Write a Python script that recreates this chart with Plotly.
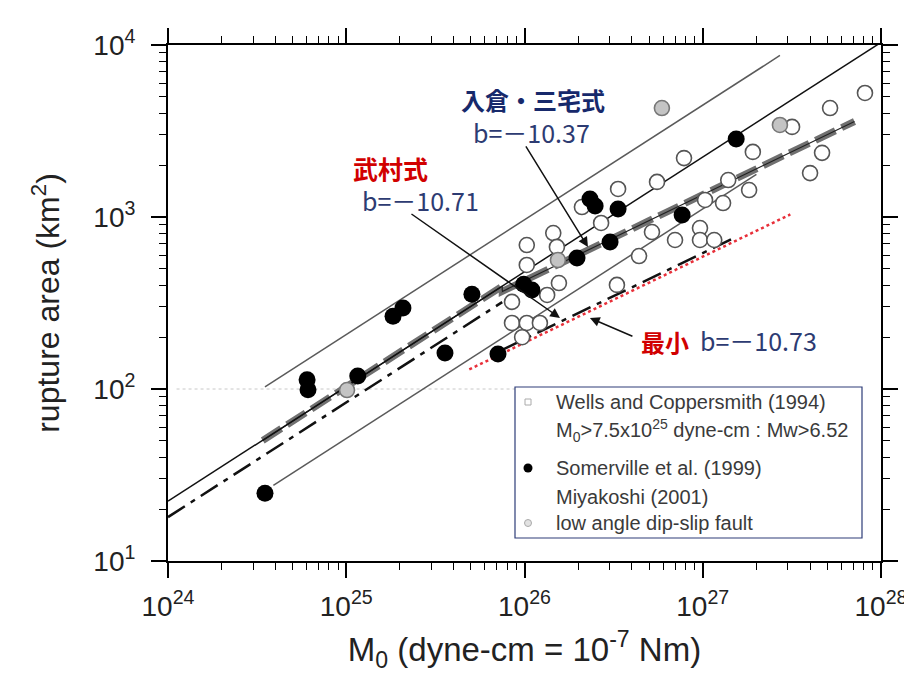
import plotly.graph_objects as go

# ---------------- data ----------------
# Somerville et al. (1999) events (filled black circles)
som_m0 = [3.50e24, 6.03e24, 6.1e24, 1.16e25, 1.83e25, 2.08e25, 3.58e25, 5.07e25,
          7.1e25, 9.9e25, 1.10e26, 1.97e26, 2.33e26, 2.49e26, 3.02e26, 3.35e26,
          7.66e26, 1.54e27]
som_area = [24.8, 113, 99, 119, 265, 296, 162, 356,
            160, 407, 376, 578, 1273, 1158, 716, 1114,
            1028, 2840]

# Wells & Coppersmith / Miyakoshi events (open circles)
wc_m0 = [8.13e27, 5.18e27, 3.17e27, 1.91e27, 4.67e27, 4.00e27, 7.85e26, 5.54e26,
         3.35e26, 1.39e27, 1.82e27, 1.03e27, 1.30e27, 2.10e26, 2.69e26, 1.45e26,
         1.03e26, 5.19e26, 6.99e26, 9.65e26, 9.65e26, 1.16e27, 4.39e26, 3.30e26,
         1.56e26, 1.03e26, 1.34e26, 8.51e25, 8.51e25, 1.03e26, 1.22e26, 9.7e25,
         1.52e26]
wc_area = [5260, 4300, 3340, 2390, 2360, 1800, 2200, 1600,
           1455, 1640, 1435, 1256, 1206, 1143, 923, 807,
           687, 818, 735, 863, 735, 735, 593, 403,
           413, 526, 352, 321, 242, 242, 242, 200,
           670]

# low angle dip-slip fault (grey circles)
lad_m0 = [5.9e26, 2.71e27, 1.54e26, 1.01e25]
lad_area = [4300, 3430, 562, 98.6]

# scaling-relation lines (end points)
som_line_m0 = [1e24, 1e28]
som_line_area = [22.3, 10350]
upper_m0 = [3.5e24, 2.71e27]
upper_area = [103, 8690]
lower_m0 = [3.9e24, 2.0e27]
lower_area = [27.5, 1770]
iri_m0 = [3.4e24, 7.5e25, 7.5e25, 7.1e27]          # 入倉・三宅式
iri_area = [50.2, 396, 369, 3590]
tak_m0 = [1e24, 7.5e25, None, 7.5e25, 1.5e27]       # 武村式
tak_area = [18.0, 320, None, 169, 755]
min_m0 = [4.9e25, 3.1e27]                          # 最小
min_area = [130, 1035]

x_ticks = [1e24, 1e25, 1e26, 1e27, 1e28]
x_ticktext = ["10<sup>24</sup>", "10<sup>25</sup>", "10<sup>26</sup>", "10<sup>27</sup>", "10<sup>28</sup>"]
y_ticks = [10.0, 100.0, 1000.0, 10000.0]
y_ticktext = ["10<sup>1</sup>", "10<sup>2</sup>", "10<sup>3</sup>", "10<sup>4</sup>"]

# ---------------- figure ----------------
fig = go.Figure()

def line(x, y, color, width, dash="solid"):
    fig.add_trace(go.Scatter(x=x, y=y, mode="lines", showlegend=False, hoverinfo="skip",
                             line=dict(color=color, width=width, dash=dash),
                             connectgaps=False))

line(upper_m0, upper_area, "#5a5a5a", 1.5)
line(lower_m0, lower_area, "#5a5a5a", 1.5)
line(iri_m0, iri_area, "#707070", 7, "22px,7px")
line(iri_m0, iri_area, "#222222", 1.2)
line(som_line_m0, som_line_area, "#111111", 1.5)
line(tak_m0, tak_area, "#111111", 2.5, "20px,7px,5px,7px")
line(min_m0, min_area, "#e8303a", 2.5, "dot")

fig.add_trace(go.Scatter(x=wc_m0, y=wc_area, mode="markers", showlegend=False,
                         marker=dict(symbol="circle", size=15, color="white",
                                     line=dict(color="#555555", width=1.6))))
fig.add_trace(go.Scatter(x=lad_m0, y=lad_area, mode="markers", showlegend=False,
                         marker=dict(symbol="circle", size=15, color="#c4c4c4",
                                     line=dict(color="#777777", width=1.6))))
fig.add_trace(go.Scatter(x=som_m0, y=som_area, mode="markers", showlegend=False,
                         marker=dict(symbol="circle", size=17, color="black",
                                     line=dict(color="black", width=0))))

# minor tick positions
x_minor = [float(m) * 10.0 ** e for e in range(24, 28) for m in range(2, 10)]
y_minor = [float(m) * 10.0 ** e for e in range(1, 4) for m in range(2, 10)]

axis_common = dict(type="log", showline=True, linecolor="black", linewidth=2,
                   mirror="ticks", ticks="outside", ticklen=15, tickwidth=1.5,
                   tickcolor="black", showgrid=False, zeroline=False,
                   tickfont=dict(family="Liberation Sans, Arial", size=28, color="#222"))

fig.update_xaxes(range=[24, 28], tickmode="array", tickvals=x_ticks, ticktext=x_ticktext,
                 minor=dict(tickmode="array", tickvals=x_minor, ticks="outside",
                            ticklen=7, tickwidth=1.2, tickcolor="black"),
                 ticklabelstandoff=4,
                 title=dict(text="M<sub>0</sub> (dyne-cm = 10<sup>-7</sup> Nm)",
                            font=dict(family="Liberation Sans, Arial", size=33, color="#222"),
                            standoff=17),
                 **axis_common)
fig.update_yaxes(range=[1, 4], tickmode="array", tickvals=y_ticks, ticktext=y_ticktext,
                 minor=dict(tickmode="array", tickvals=y_minor, ticks="outside",
                            ticklen=7, tickwidth=1.2, tickcolor="black"),
                 ticklabelstandoff=10,
                 title=dict(text="rupture area (km<sup>2</sup>)",
                            font=dict(family="Liberation Sans, Arial", size=32, color="#222"),
                            standoff=24),
                 **axis_common)

def px2paper_x(px):
    return (px - 168) / 713.0

def px2paper_y(py):
    return (561 - py) / 516.0

shapes = []
# faint dotted grid remnant at 10^2
shapes.append(dict(type="line", xref="paper", yref="paper", x0=0.012, x1=0.55,
                   y0=1 / 3, y1=1 / 3, line=dict(color="#c8c8c8", width=1, dash="dot"),
                   layer="below"))
# legend box
shapes.append(dict(type="rect", xref="paper", yref="paper",
                   x0=px2paper_x(515), x1=px2paper_x(862),
                   y0=px2paper_y(538), y1=px2paper_y(387),
                   line=dict(color="#2e3c78", width=1.2), fillcolor="white"))
# legend symbols
shapes.append(dict(type="rect", xref="paper", yref="paper", xsizemode="pixel", ysizemode="pixel",
                   xanchor=px2paper_x(528), yanchor=px2paper_y(402),
                   x0=-3, x1=3, y0=-3, y1=3, line=dict(color="#aaaaaa", width=1), fillcolor="white"))
shapes.append(dict(type="circle", xref="paper", yref="paper", xsizemode="pixel", ysizemode="pixel",
                   xanchor=px2paper_x(528), yanchor=px2paper_y(468),
                   x0=-4.5, x1=4.5, y0=-4.5, y1=4.5, line=dict(color="black", width=0),
                   fillcolor="black"))
shapes.append(dict(type="circle", xref="paper", yref="paper", xsizemode="pixel", ysizemode="pixel",
                   xanchor=px2paper_x(528), yanchor=px2paper_y(523),
                   x0=-3.5, x1=3.5, y0=-3.5, y1=3.5, line=dict(color="#aaaaaa", width=1),
                   fillcolor="#e2e2e2"))

legend_font = dict(family="Liberation Sans, Arial", size=20, color="#3a3a3a")
ann = []
legend_rows = [
    ("Wells and Coppersmith (1994)", 402),
    ("M<sub>0</sub>&gt;7.5x10<sup>25</sup> dyne-cm : Mw&gt;6.52", 430),
    ("Somerville et al. (1999)", 468),
    ("Miyakoshi (2001)", 497),
    ("low angle dip-slip fault", 523),
]
for txt, py in legend_rows:
    ann.append(dict(text=txt, xref="paper", yref="paper", x=px2paper_x(554), y=px2paper_y(py),
                    xanchor="left", yanchor="middle", showarrow=False, font=legend_font))

cjk = "Noto Sans CJK JP"
navy = "#17296b"
slate = "#2d3b72"
red = "#d10000"
ann += [
    dict(text="<b>入倉・三宅式</b>", x=px2paper_x(533), y=px2paper_y(100),
         font=dict(family=cjk, size=24, color=navy)),
    dict(text="b=－10.37", x=px2paper_x(531), y=px2paper_y(132),
         font=dict(family=cjk, size=25, color=slate)),
    dict(text="<b>武村式</b>", x=px2paper_x(390), y=px2paper_y(168),
         font=dict(family=cjk, size=25, color=red)),
    dict(text="b=－10.71", x=px2paper_x(420), y=px2paper_y(200),
         font=dict(family=cjk, size=25, color=slate)),
    dict(text="<b>最小</b>", x=px2paper_x(665), y=px2paper_y(341),
         font=dict(family=cjk, size=24, color=red)),
    dict(text="b=－10.73", x=px2paper_x(758), y=px2paper_y(340),
         font=dict(family=cjk, size=25, color=slate)),
]
for a in ann[-6:]:
    a.update(xref="paper", yref="paper", xanchor="center", yanchor="middle", showarrow=False)

# arrows (head in log10 data coordinates, tail as pixel offsets)
arrows = [
    (26.356, 2.826, -63, -102),
    (26.199, 2.413, -150, -105),
    (26.367, 2.413, 44, 19),
]
for hx, hy, ax, ay in arrows:
    ann.append(dict(x=hx, y=hy, xref="x", yref="y", ax=ax, ay=ay, axref="pixel", ayref="pixel",
                    text="", showarrow=True, arrowhead=2, arrowsize=1.3, arrowwidth=1.5,
                    arrowcolor="#111"))

# the page body adds an 8 px offset, so margins are reduced by 8 px on the left/top
fig.update_layout(width=912, height=678, margin=dict(l=160, r=39, t=37, b=125),
                  paper_bgcolor="white", plot_bgcolor="white",
                  shapes=shapes, annotations=ann, showlegend=False)

fig.write_html("out.html")
